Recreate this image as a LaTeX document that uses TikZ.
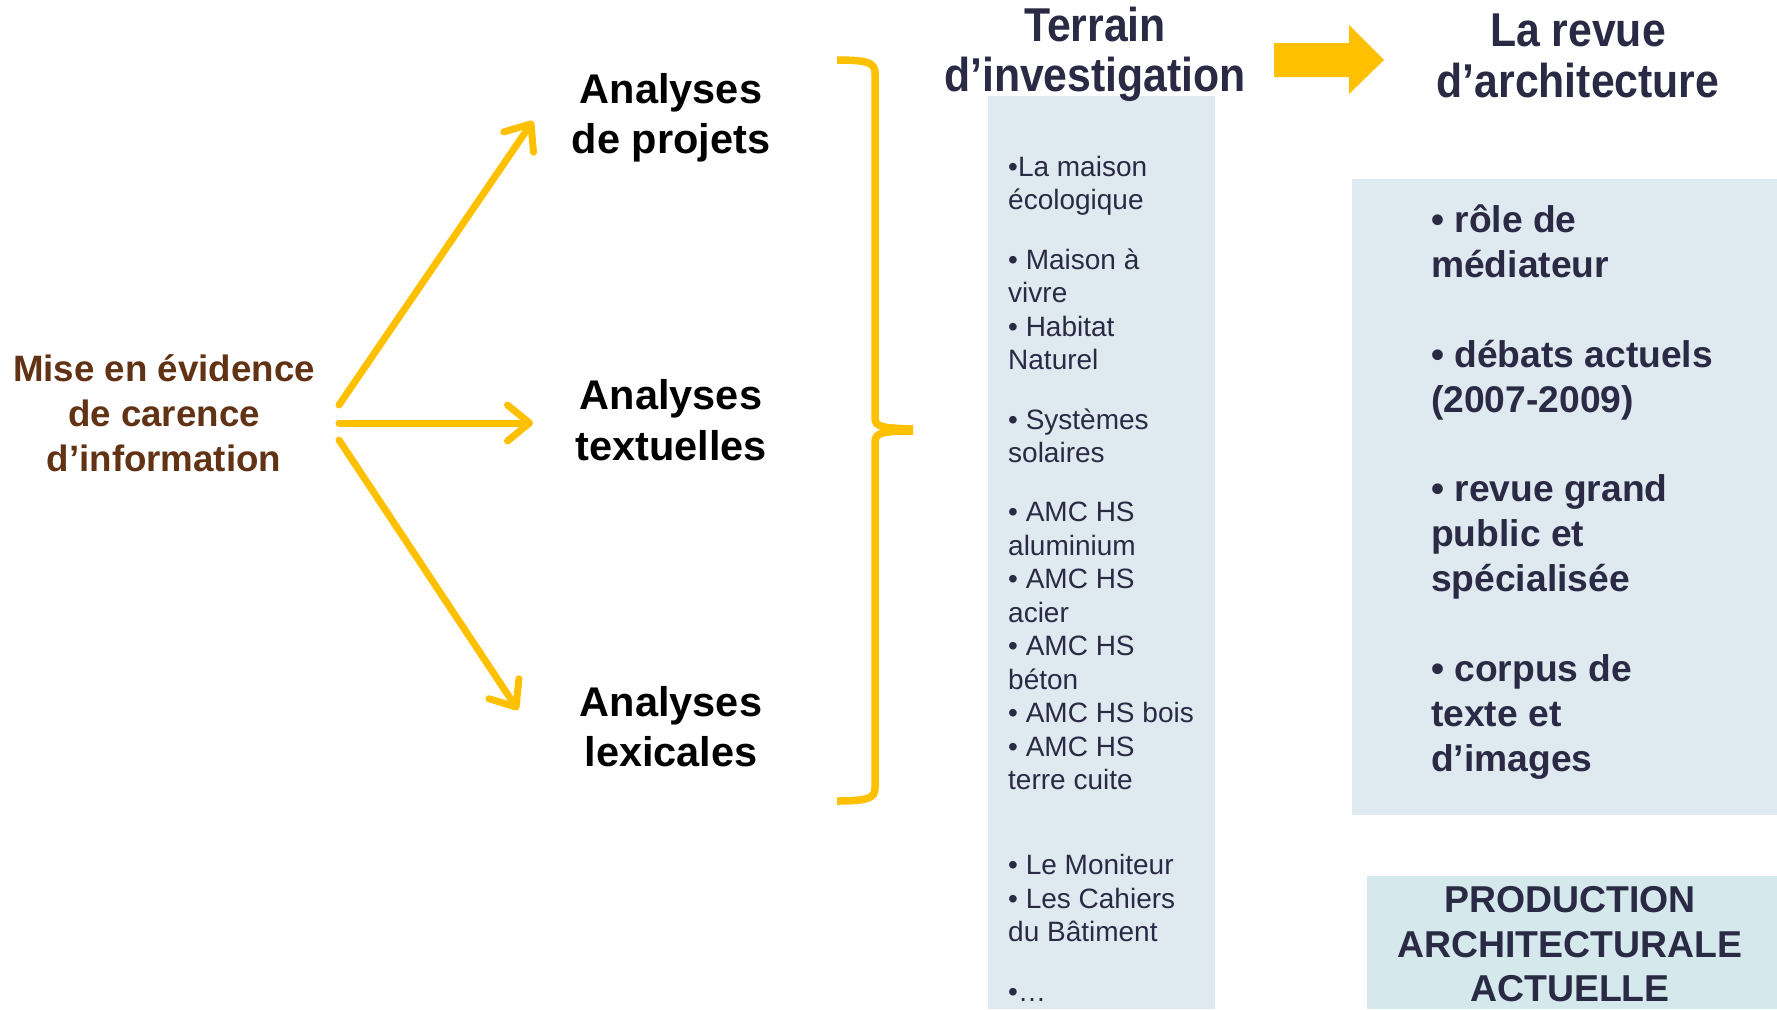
\documentclass[tikz,border=0pt]{standalone}
\usepackage{fontspec}
\setmainfont{Liberation Sans}
\newfontfamily\narrowfont[FakeStretch=0.9]{Liberation Sans}
\usetikzlibrary{arrows.meta}
\definecolor{yel}{RGB}{255,192,0}
\definecolor{brn}{RGB}{98,50,20}
\definecolor{navy}{RGB}{42,42,68}
\definecolor{boxbg}{RGB}{222,233,240}
\definecolor{prodbg}{RGB}{213,232,236}
\tikzset{
  yarrow/.style={draw=yel, line width=7pt, line cap=round,
    -{Straight Barb[length=22pt,width=36pt,line cap=round,line join=round]}},
  bracestyle/.style={draw=yel, line width=7.5pt},
  misetxt/.style={text=brn, font=\fontsize{36.7}{44}\selectfont\bfseries, anchor=base, inner sep=0pt},
  anatxt/.style={text=black, font=\fontsize{41.5}{49}\selectfont\bfseries, anchor=base, inner sep=0pt},
  titletxt/.style={text=navy, font=\narrowfont\fontsize{47.5}{56}\selectfont\bfseries, anchor=base, inner sep=0pt},
  listtxt/.style={text=navy, font=\fontsize{28}{33}\selectfont, anchor=base west, inner sep=0pt},
  revtxt/.style={text=navy, font=\fontsize{37.2}{44}\selectfont\bfseries, anchor=base west, inner sep=0pt},
  prodtxt/.style={text=navy, font=\fontsize{37.4}{44}\selectfont\bfseries, anchor=base, inner sep=0pt},
}
\begin{document}
\begin{tikzpicture}[x=1pt,y=-1pt]
\useasboundingbox (0,0) rectangle (1777,1009);
\fill[white] (0,0) rectangle (1777,1009);

% boxes
\fill[boxbg] (988,96) rectangle (1215,1009);
\fill[boxbg] (1352,179) rectangle (1777,815);
\fill[prodbg] (1367,876) rectangle (1777,1009);

% left text
\node[misetxt] (mise1) at (164,381) {Mise en évidence};
\node[misetxt] (mise2) at (164,426) {de carence};
\node[misetxt] (mise3) at (164,471) {d’information};

% analyses
\node[anatxt] (ap1) at (671,103) {Analyses};
\node[anatxt] (ap2) at (671,153) {de projets};
\node[anatxt] (at1) at (671,409) {Analyses};
\node[anatxt] (at2) at (671,460) {textuelles};
\node[anatxt] (al1) at (671,716) {Analyses};
\node[anatxt] (al2) at (671,766) {lexicales};

% arrows
\coordinate (s1) at (339,405);
\coordinate (s2) at (339,423);
\coordinate (s3) at (339,440);
\coordinate (e1) at (533,121);
\coordinate (e2) at (533,423);
\coordinate (e3) at (518,710);
\draw[yarrow] (s1) -- (e1);
\draw[yarrow] (s2) -- (e2);
\draw[yarrow] (s3) -- (e3);

% brace
\draw[bracestyle] (837,60) .. controls (868,60) and (875,63) .. (875,73) -- (875,418)
  .. controls (875,427) and (882,428) .. (913,429);
\draw[bracestyle] (837,801) .. controls (868,801) and (875,798) .. (875,788) -- (875,442)
  .. controls (875,433) and (882,431) .. (913,431);

% titles
\node[titletxt] (ti1) at (1095,41) {Terrain};
\node[titletxt] (ti2) at (1095,91) {d’investigation};
\node[titletxt] (rv1) at (1578,46) {La revue};
\node[titletxt] (rv2) at (1578,97) {d’architecture};

% block arrow
\fill[yel] (1274,43) -- (1349,43) -- (1349,25) -- (1384,60) -- (1349,94) -- (1349,77) -- (1274,77) -- cycle;

% terrain list
\foreach \t/\yy [count=\i] in {
  {•La maison}/176, {écologique}/209,
  {• Maison à}/269, {vivre}/302, {• Habitat}/336, {Naturel}/369,
  {• Systèmes}/429, {solaires}/462,
  {• AMC HS}/521, {aluminium}/555, {• AMC HS}/588, {acier}/622,
  {• AMC HS}/655, {béton}/689, {• AMC HS bois}/722, {• AMC HS}/756, {terre cuite}/789,
  {• Le Moniteur}/874, {• Les Cahiers}/908, {du Bâtiment}/941,
  {•…}/1001}
  \node[listtxt] (tl\i) at (1008,\yy) {\t};

% revue list
\foreach \t/\yy [count=\i] in {
  {• rôle de}/232, {médiateur}/277,
  {• débats actuels}/367, {(2007-2009)}/412,
  {• revue grand}/501, {public et}/546, {spécialisée}/591,
  {• corpus de}/681, {texte et}/726, {d’images}/771}
  \node[revtxt] (rl\i) at (1431,\yy) {\t};

% production
\node[prodtxt] (pr1) at (1570,912) {PRODUCTION};
\node[prodtxt] (pr2) at (1570,957) {ARCHITECTURALE};
\node[prodtxt] (pr3) at (1570,1001) {ACTUELLE};
\end{tikzpicture}
\end{document}
